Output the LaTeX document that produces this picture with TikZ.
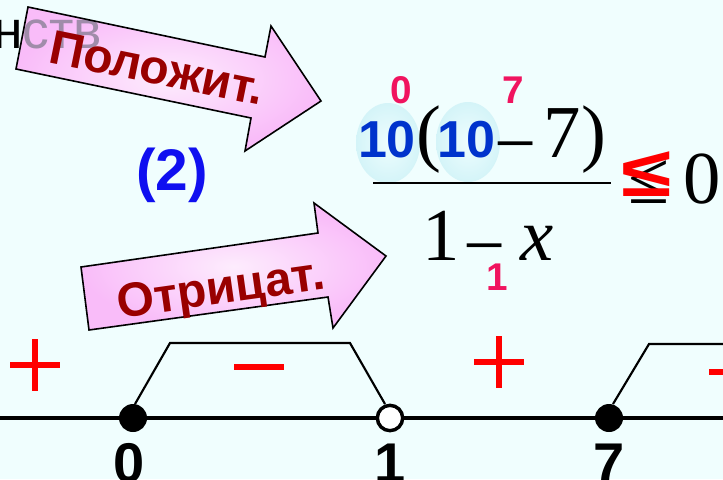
\documentclass[tikz,border=0pt]{standalone}
\usepackage{fontspec}
\setmainfont{Liberation Serif}
\setsansfont{Liberation Sans}
\newfontfamily\arialfont{Liberation Sans}
\newfontfamily\timesfont{Liberation Serif}
\definecolor{bgc}{RGB}{240,254,254}
\definecolor{pinkin}{RGB}{253,236,253}
\definecolor{pinkout}{RGB}{249,188,249}
\definecolor{darkred}{RGB}{153,0,0}
\definecolor{numblue}{RGB}{0,51,204}
\definecolor{brblue}{RGB}{15,15,240}
\definecolor{pinknum}{RGB}{240,20,95}
\definecolor{signred}{RGB}{255,0,0}
\definecolor{ellin}{RGB}{238,253,254}
\definecolor{ellout}{RGB}{212,244,248}
\definecolor{greytxt}{RGB}{160,140,170}
\tikzset{
  lbl/.style={inner sep=0pt, anchor=base},
  arrowtxt/.style={inner sep=0pt, text=darkred, font=\arialfont\bfseries\fontsize{36}{40}\selectfont},
  serifbig/.style={inner sep=0pt, anchor=base, font=\timesfont\fontsize{56}{60}\selectfont},
  bluenum/.style={inner sep=0pt, anchor=base, text=numblue, font=\arialfont\bfseries\fontsize{39}{44}\selectfont},
  pinkdig/.style={inner sep=0pt, anchor=base, text=pinknum, font=\arialfont\bfseries\fontsize{29}{34}\selectfont},
  axislbl/.style={inner sep=0pt, anchor=base, font=\arialfont\bfseries\fontsize{42}{46}\selectfont},
  signmark/.style={draw=signred, line width=4pt},
  trap/.style={draw=black, line width=1.6pt, line join=miter},
  fulldot/.style={circle, fill=black, minimum size=21pt, inner sep=0pt},
  opendot/.style={circle, fill=white, draw=black, line width=2.6pt, minimum size=19pt, inner sep=0pt},
  outline/.style={draw=black, line width=1.2pt, line join=miter}
}
\begin{document}
\begin{tikzpicture}[x=0.75pt,y=-0.75pt]
\useasboundingbox (0,0) rectangle (723,479);
\fill[bgc] (0,0) rectangle (723,479);

% word behind the first arrow
\node[lbl, anchor=base west, font=\arialfont\fontsize{40}{44}\selectfont] (word) at (-7,48) {нств};

% first arrow
\shade[inner color=pinkin, outer color=pinkout] (28,7) -- (265,57) -- (271,26) -- (321,101) -- (245,151) -- (251,118) -- (16,69) -- cycle;
\begin{scope}
\clip (28,7) -- (265,57) -- (271,26) -- (321,101) -- (245,151) -- (251,118) -- (16,69) -- cycle;
\node[lbl, anchor=base west, text=greytxt, font=\arialfont\fontsize{40}{44}\selectfont] (wordg) at (-7,48) {нств};
\end{scope}
\path[outline] (28,7) -- (265,57) -- (271,26) -- (321,101) -- (245,151) -- (251,118) -- (16,69) -- cycle;
\node[arrowtxt, rotate=-11.5] (pos) at (157,68) {Положит.};

% second arrow
\shade[inner color=pinkin, outer color=pinkout] (81,267) -- (318,233) -- (314,203) -- (386,256) -- (333,328) -- (328,297) -- (89,330) -- cycle;
\path[outline] (81,267) -- (318,233) -- (314,203) -- (386,256) -- (333,328) -- (328,297) -- (89,330) -- cycle;
\node[arrowtxt, rotate=8] (neg) at (221,292) {Отрицат.};

% (2)
\node[lbl, text=brblue, font=\arialfont\bfseries\fontsize{44}{48}\selectfont] (two) at (172,190) {(2)};

% ellipses behind the roots
\shade[inner color=ellin, outer color=ellout] (388,143) ellipse [x radius=32, y radius=40];
\shade[inner color=ellin, outer color=ellout] (468,142) ellipse [x radius=32, y radius=40];

% numerator
\node[bluenum] (na) at (387,157) {10};
\node[serifbig] (lp) at (429,157) {(};
\node[bluenum] (nb) at (466,157) {10};
\node[serifbig] (mn) at (516,168) {−};
\node[serifbig] (sv) at (562,157) {7};
\node[serifbig] (rp) at (594,157) {)};
% fraction bar
\coordinate (barl) at (373,183);
\coordinate (barr) at (611,183);
\draw[line width=2.2pt] (barl) -- (barr);
% denominator
\node[serifbig] (d1) at (441,260) {1};
\node[serifbig] (dm) at (485,270) {−};
\node[serifbig, font=\timesfont\itshape\fontsize{56}{60}\selectfont] (dx) at (537,260) {x};
% roots in pink
\node[pinkdig] (r0) at (401,103) {0};
\node[pinkdig] (r7) at (513,103) {7};
\node[pinkdig] (r1) at (497,290) {1};
% inequality sign
\node[serifbig] (leb) at (649,203) {≤};
\node[lbl, text=signred, xscale=1.3, font=\arialfont\bfseries\fontsize{53}{57}\selectfont] (ler) at (647,196) {≤};
\node[serifbig] (zero) at (702,203) {0};

% number line
\coordinate (axl) at (0,418);
\coordinate (axr) at (723,418);
\draw[line width=3pt] (axl) -- (axr);
\coordinate (ta) at (135,404);
\coordinate (tb) at (170,343);
\coordinate (tc) at (350,343);
\coordinate (td) at (385,404);
\path[trap] (ta) -- (tb) -- (tc) -- (td);
\coordinate (te) at (613,404);
\coordinate (tf) at (649,344);
\coordinate (tg) at (730,344);
\path[trap] (te) -- (tf) -- (tg);
\node[fulldot] (p0) at (133,418) {};
\node[opendot] (p1) at (390,418) {};
\node[fulldot] (p7) at (609,418) {};
\node[axislbl] (l0) at (129,482) {0};
\node[axislbl] (l1) at (390,482) {1};
\node[axislbl] (l7) at (609,482) {7};

% signs
\coordinate (s1) at (35,365);
\draw[signmark] ([xshift=-25*0.75pt]s1) -- ([xshift=25*0.75pt]s1) ([yshift=26*0.75pt]s1) -- ([yshift=-26*0.75pt]s1);
\coordinate (s2) at (259,367);
\draw[signmark] ([xshift=-25*0.75pt]s2) -- ([xshift=25*0.75pt]s2);
\coordinate (s3) at (499,362);
\draw[signmark] ([xshift=-25*0.75pt]s3) -- ([xshift=25*0.75pt]s3) ([yshift=26*0.75pt]s3) -- ([yshift=-26*0.75pt]s3);
\coordinate (s4) at (734,372);
\draw[signmark] ([xshift=-25*0.75pt]s4) -- ([xshift=25*0.75pt]s4);
\end{tikzpicture}
\end{document}
